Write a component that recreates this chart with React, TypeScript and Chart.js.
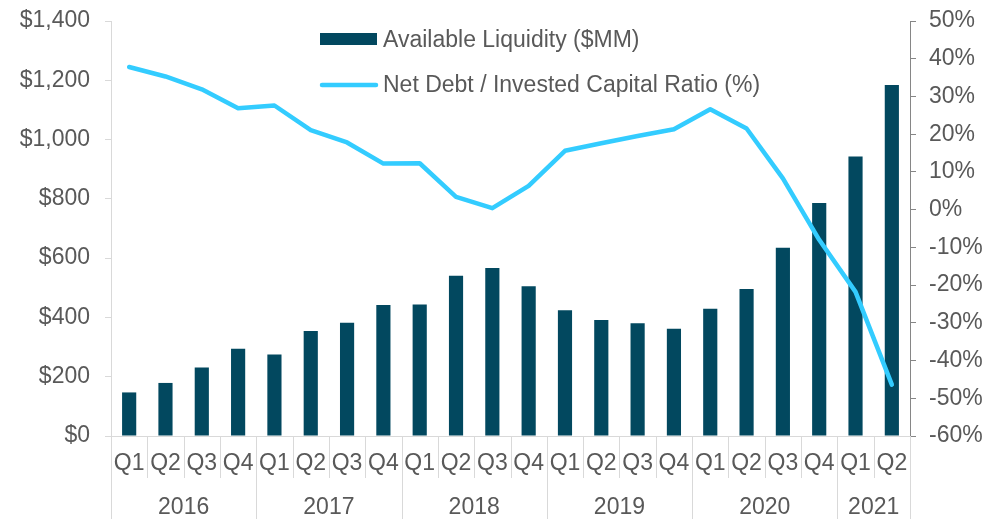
import React, { useEffect, useRef } from "react";
import { Chart, registerables } from "chart.js";

Chart.register(...registerables);

const quarterLabels = [
  "Q1", "Q2", "Q3", "Q4",
  "Q1", "Q2", "Q3", "Q4",
  "Q1", "Q2", "Q3", "Q4",
  "Q1", "Q2", "Q3", "Q4",
  "Q1", "Q2", "Q3", "Q4",
  "Q1", "Q2",
];
const yearLabels = ["2016", "2017", "2018", "2019", "2020", "2021"];
const quartersInYear = [4, 4, 4, 4, 4, 2];

const liquidity = [
  147, 179, 231, 294,
  275, 354, 382, 442,
  444, 541, 567, 505,
  424, 391, 380, 362,
  429, 496, 635, 786,
  943, 1184,
];
const netDebtRatio = [
  37.8, 35.3, 31.9, 26.9,
  27.6, 21.1, 17.8, 12.2,
  12.3, 3.4, 0.4, 6.3,
  15.6, 17.6, 19.5, 21.3,
  26.6, 21.5, 8.3, -8.0,
  -21.8, -46.4,
];

const FONT = "'Liberation Sans', Arial, sans-serif";
const FS = 23;
const TEXT = "#595959";
const BAR = "#02485F";
const LINE = "#33CCFF";
const LIGHT = "#D9D9D9";
const DARK = "#868686";

const decorPlugin = {
  id: "decor",
  afterDraw(chart: any) {
    const ctx = chart.ctx;
    const x = chart.scales.x;
    const area = chart.chartArea;
    const n = quarterLabels.length;
    const step = x.getPixelForValue(1) - x.getPixelForValue(0);
    const boundary = (i: number) => x.getPixelForValue(i) - step / 2;
    const yearBounds = new Set<number>();
    let acc = 0;
    yearBounds.add(0);
    quartersInYear.forEach((q) => {
      acc += q;
      yearBounds.add(acc);
    });
    ctx.save();
    ctx.strokeStyle = LIGHT;
    ctx.lineWidth = 1;
    for (let i = 0; i <= n; i++) {
      const bx = Math.round(boundary(i)) + 0.5;
      const y0 = area.bottom;
      const y1 = yearBounds.has(i) ? chart.height : area.bottom + 42;
      ctx.beginPath();
      ctx.moveTo(bx, y0);
      ctx.lineTo(bx, y1);
      ctx.stroke();
    }
    // year labels
    ctx.fillStyle = TEXT;
    ctx.font = `${FS}px ${FONT}`;
    ctx.textAlign = "center";
    ctx.textBaseline = "middle";
    let start = 0;
    quartersInYear.forEach((q, k) => {
      const cx = (boundary(start) + boundary(start + q)) / 2;
      ctx.fillText(yearLabels[k], cx, area.bottom + 72);
      start += q;
    });
    // legend
    const ds = chart.data.datasets;
    ctx.textAlign = "left";
    ctx.textBaseline = "alphabetic";
    ctx.fillStyle = ds[0].backgroundColor;
    ctx.fillRect(320, 33, 57, 12);
    ctx.fillStyle = TEXT;
    ctx.fillText(ds[0].label, 383, 47);
    ctx.strokeStyle = ds[1].borderColor;
    ctx.lineWidth = 4.5;
    ctx.lineCap = "round";
    ctx.beginPath();
    ctx.moveTo(322, 85);
    ctx.lineTo(376, 85);
    ctx.stroke();
    ctx.fillStyle = TEXT;
    ctx.fillText(ds[1].label, 383, 92);
    ctx.restore();
  },
};

export default function App() {
  const ref = useRef<HTMLCanvasElement>(null);
  useEffect(() => {
    document.body.style.margin = "0";
    const chart = new Chart(ref.current!, {
      type: "bar",
      data: {
        labels: quarterLabels,
        datasets: [
          {
            type: "bar",
            label: "Available Liquidity ($MM)",
            data: liquidity,
            backgroundColor: BAR,
            borderWidth: 0,
            barPercentage: 0.39,
            categoryPercentage: 1,
            yAxisID: "y",
            order: 2,
          },
          {
            type: "line",
            label: "Net Debt / Invested Capital Ratio (%)",
            data: netDebtRatio,
            borderColor: LINE,
            backgroundColor: LINE,
            borderWidth: 4.5,
            pointRadius: 0,
            tension: 0,
            borderCapStyle: "round",
            borderJoinStyle: "round",
            yAxisID: "y1",
            order: 1,
          } as any,
        ],
      },
      options: {
        responsive: false,
        animation: false,
        layout: { padding: { top: 21, left: 0, right: 0, bottom: 0 } },
        plugins: {
          legend: { display: false },
          tooltip: { enabled: false },
        },
        scales: {
          x: {
            type: "category",
            offset: true,
            grid: { display: false, drawTicks: false },
            border: { display: true, color: LIGHT, width: 1 },
            ticks: {
              color: TEXT,
              font: { family: FONT, size: FS },
              padding: 14,
              maxRotation: 0,
              autoSkip: false,
            },
            afterFit: (s: any) => {
              s.height = 83;
              s.paddingLeft = 0;
              s.paddingRight = 0;
            },
          },
          y: {
            position: "left",
            min: 0,
            max: 1400,
            grid: { drawOnChartArea: false, color: LIGHT, tickLength: 6 },
            border: { display: true, color: LIGHT, width: 1 },
            ticks: {
              stepSize: 200,
              color: TEXT,
              padding: 15,
              font: { family: FONT, size: FS },
              callback: (v: any) => "$" + Number(v).toLocaleString("en-US"),
            },
            afterFit: (s: any) => {
              s.width = 111;
              s.paddingTop = 0;
              s.paddingBottom = 0;
            },
          },
          y1: {
            position: "right",
            min: -60,
            max: 50,
            grid: { drawOnChartArea: false, color: DARK, tickLength: 6 },
            border: { display: true, color: DARK, width: 1 },
            ticks: {
              stepSize: 10,
              color: TEXT,
              padding: 13,
              font: { family: FONT, size: FS },
              callback: (v: any) => v + "%",
            },
            afterFit: (s: any) => {
              s.width = 87;
              s.paddingTop = 0;
              s.paddingBottom = 0;
            },
          },
        },
      },
      plugins: [decorPlugin],
    });
    return () => chart.destroy();
  }, []);
  return (
    <div style={{ position: "fixed", left: 0, top: 0, width: 997, height: 519, background: "#fff" }}>
      <canvas ref={ref} width={997} height={519} />
    </div>
  );
}
